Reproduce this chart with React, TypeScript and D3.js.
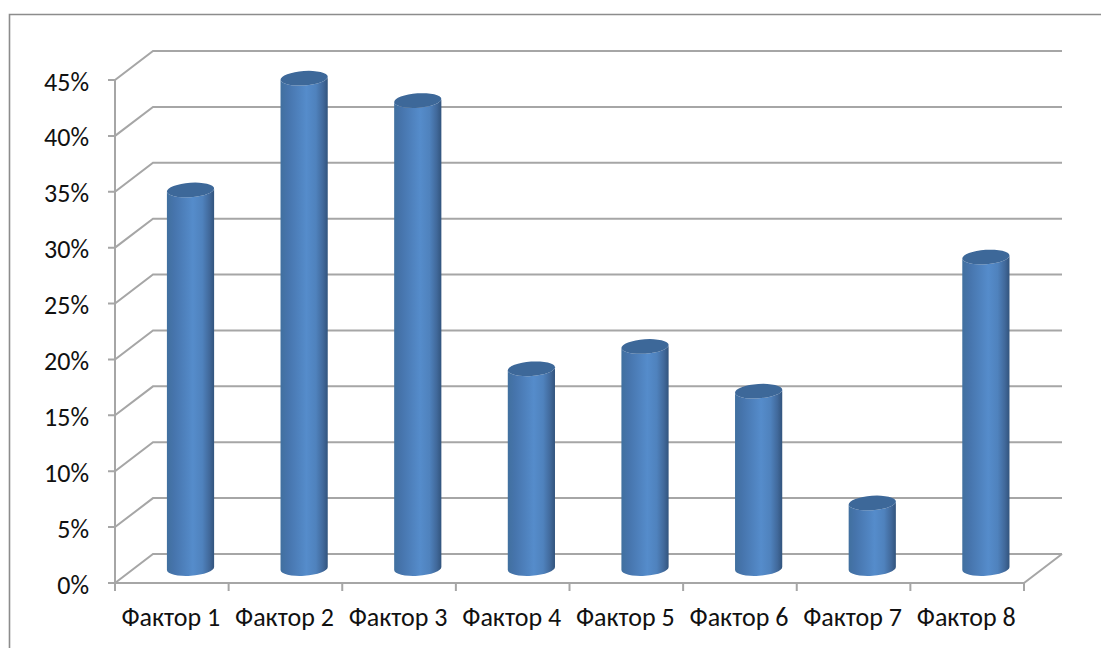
import React from "react";
import * as d3 from "d3";

const categories = ["Фактор 1", "Фактор 2", "Фактор 3", "Фактор 4", "Фактор 5", "Фактор 6", "Фактор 7", "Фактор 8"];
const values = [34, 44, 42, 18, 20, 16, 6, 28];
const ticks = [0, 5, 10, 15, 20, 25, 30, 35, 40, 45];

const W = 1101, H = 648;
const DX = 38, DY = -29;
const y = d3.scaleLinear().domain([0, 45]).range([583, 80]);
const x = d3.scaleBand<string>().domain(categories).range([115, 1024]);
const grey = "#a6a6a6";
const font = "Carlito, Calibri, 'Open Sans', 'Noto Sans', sans-serif";
const rx = 23.6, ry = 7.2, tilt = 1.6, rot = -4;

export default function App() {
  const x0 = 115, x1 = 1024, y0 = y(0);
  return (
    <svg width={W} height={H} style={{ position: "absolute", left: 0, top: 0, background: "#fff" }}>
      <defs>
        <linearGradient id="body" x1="0" x2="1" y1="0" y2="0">
          <stop offset="0" stopColor="#41709f" />
          <stop offset="0.15" stopColor="#4674ac" />
          <stop offset="0.55" stopColor="#558ccb" />
          <stop offset="0.75" stopColor="#4f82bd" />
          <stop offset="0.9" stopColor="#41699b" />
          <stop offset="1" stopColor="#32547d" />
        </linearGradient>
      </defs>
      <path d={`M9.5,648V14.5H${W}`} fill="none" stroke="#8c8c8c" strokeWidth={1.6} />
      <g fill="none" stroke={grey} strokeWidth={2}>
        {ticks.map(t => (
          <path key={t} d={`M${x0 - 7},${y(t)}H${x0}L${x0 + DX},${y(t) + DY}H${x1 + DX}`} />
        ))}
        <path d={`M${x0},${y(45)}V${y0 + 8}`} />
        <path d={`M${x0},${y0}H${x1}L${x1 + DX},${y0 + DY}`} />
        {categories.map(c => {
          const tx = x(c)! + x.bandwidth();
          return <path key={c} d={`M${tx},${y0}V${y0 + 8}`} />;
        })}
      </g>
      {categories.map((c, i) => {
        const cx = x(c)! + x.bandwidth() / 2 + DX / 2 - 0.3;
        const yb = y0 + DY / 2;
        const yt = y(values[i]) + DY / 2 + 1.5;
        const body = `M${cx - rx},${yt + tilt}L${cx - rx},${yb + tilt}A${rx},${ry} ${rot} 0 0 ${cx + rx},${yb - tilt}L${cx + rx},${yt - tilt}A${rx},${ry} ${rot} 0 1 ${cx - rx},${yt + tilt}Z`;
        const top = `M${cx - rx},${yt + tilt}A${rx},${ry} ${rot} 0 1 ${cx + rx},${yt - tilt}A${rx},${ry} ${rot} 0 1 ${cx - rx},${yt + tilt}Z`;
        return (
          <g key={c}>
            <path d={body} fill="url(#body)" />
            <path d={top} fill="#3d6899" />
          </g>
        );
      })}
      <g fontFamily={font} fontSize={26} fill="#111">
        {ticks.map(t => (
          <text key={t} x={89} y={y(t)} dy={10.5} textAnchor="end">{`${t}%`}</text>
        ))}
        {categories.map(c => (
          <text key={c} x={x(c)! + x.bandwidth() / 2 - 1} y={626} textAnchor="middle">{c}</text>
        ))}
      </g>
    </svg>
  );
}
